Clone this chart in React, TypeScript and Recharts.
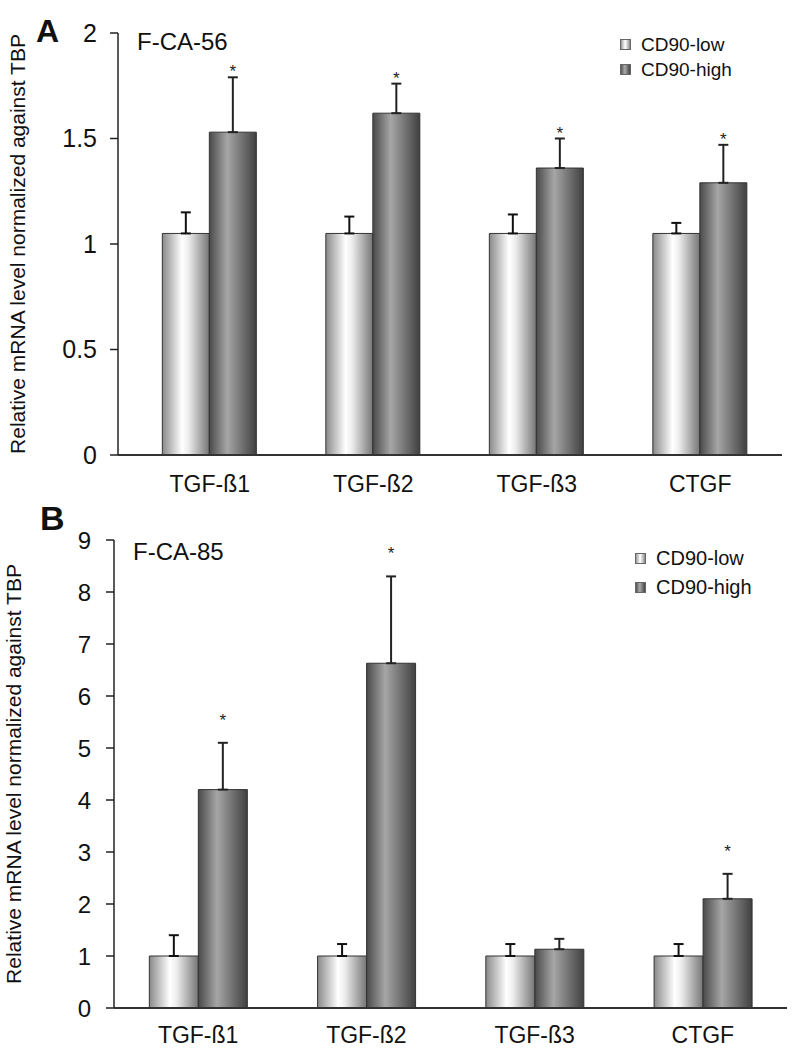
import React from "react";
import { BarChart, Bar, XAxis, YAxis, ErrorBar, Legend, LabelList } from "recharts";

const categories = ["TGF-ß1", "TGF-ß2", "TGF-ß3", "CTGF"];
const seriesNames = ["CD90-low", "CD90-high"];

// panel A, F-CA-56
const lowA = [1.05, 1.05, 1.05, 1.05];
const lowErrA = [0.1, 0.08, 0.09, 0.05];
const highA = [1.53, 1.62, 1.36, 1.29];
const highErrA = [0.26, 0.14, 0.14, 0.18];
const sigA = [true, true, true, true];
const ticksA = [0, 0.5, 1, 1.5, 2];

// panel B, F-CA-85
const lowB = [1, 1, 1, 1];
const lowErrB = [0.4, 0.23, 0.23, 0.23];
const highB = [4.2, 6.63, 1.13, 2.1];
const highErrB = [0.9, 1.67, 0.2, 0.48];
const sigB = [true, true, false, true];
const ticksB = [0, 1, 2, 3, 4, 5, 6, 7, 8, 9];

const FONT = "'Liberation Sans', Arial, sans-serif";

const legendGrad: Record<string, string> = {
  low: "linear-gradient(to right, #999, #fff 45%, #f2f2f2 55%, #888)",
  high: "linear-gradient(to right, #555, #aaa 42%, #444)",
};

function Panel(props: any) {
  const {
    id, top, height, margin, yWidth, padLeft, ticks, tickFont, tickSize, tickMargin, xTickMargin,
    low, lowErr, high, highErr, sig, starDy, legendPos, legendRow, legendFont, labelX,
  } = props;

  const rows = categories.map((c, i) => ({
    name: c,
    low: low[i],
    high: high[i],
    lowErr: [0, lowErr[i]],
    highErr: [0, highErr[i]],
  }));

  const renderStar = (p: any) => {
    const { x, y, width, height: h, value, index } = p;
    if (!sig[index]) return null;
    const ppu = h / value;
    const errTop = y - highErr[index] * ppu;
    return (
      <text x={x + width / 2} y={errTop + starDy} textAnchor="middle" fontSize={17} fontFamily={FONT} fill="#222">
        *
      </text>
    );
  };

  const renderYLabel = (p: any) => {
    const vb = p.viewBox || {};
    const cy = vb.y + vb.height / 2;
    return (
      <text
        x={labelX}
        y={cy}
        transform={`rotate(-90, ${labelX}, ${cy})`}
        textAnchor="middle"
        fontSize={21}
        fontFamily={FONT}
        fill="#111"
      >
        Relative mRNA level normalized against TBP
      </text>
    );
  };

  return (
    <div style={{ position: "absolute", left: 0, top, width: 792, height }}>
      <BarChart width={792} height={height} data={rows} margin={margin} barCategoryGap="21%" barGap={0}>
        <defs>
          <linearGradient id={`${id}-low`} x1="0" y1="0" x2="1" y2="0">
            <stop offset="0%" stopColor="#8a8a8a" />
            <stop offset="42%" stopColor="#ffffff" />
            <stop offset="55%" stopColor="#eeeeee" />
            <stop offset="100%" stopColor="#767676" />
          </linearGradient>
          <linearGradient id={`${id}-high`} x1="0" y1="0" x2="1" y2="0">
            <stop offset="0%" stopColor="#4a4a4a" />
            <stop offset="38%" stopColor="#a6a6a6" />
            <stop offset="100%" stopColor="#404040" />
          </linearGradient>
        </defs>
        <XAxis
          dataKey="name"
          height={30}
          padding={{ left: padLeft, right: 0 }}
          axisLine={{ stroke: "#333", strokeWidth: 2 }}
          tickLine={false}
          tickSize={0}
          tickMargin={xTickMargin}
          tick={{ fill: "#111", fontSize: 23, fontFamily: FONT }}
        />
        <YAxis
          width={yWidth}
          domain={[ticks[0], ticks[ticks.length - 1]]}
          ticks={ticks}
          interval={0}
          axisLine={{ stroke: "#222", strokeWidth: 1.5 }}
          tickLine={{ stroke: "#222", strokeWidth: 1.5 }}
          tickSize={tickSize}
          tickMargin={tickMargin}
          tick={{ fill: "#111", fontSize: tickFont, fontFamily: FONT }}
          label={{ content: renderYLabel }}
        />
        <Legend
          layout="vertical"
          align="center"
          verticalAlign="middle"
          wrapperStyle={{ left: legendPos[0], top: legendPos[1], width: 170 }}
          content={(lp: any) => {
            const items = [...(lp.payload || [])].sort(
              (a: any, b: any) => seriesNames.indexOf(a.value) - seriesNames.indexOf(b.value)
            );
            return (
              <div style={{ fontFamily: FONT, fontSize: legendFont, color: "#111" }}>
                {items.map((entry: any) => (
                  <div key={entry.value} style={{ display: "flex", alignItems: "center", height: legendRow }}>
                    <span
                      style={{
                        display: "inline-block",
                        width: 9,
                        height: 9,
                        marginRight: 10,
                        border: "1px solid #666",
                        background: legendGrad[entry.dataKey],
                      }}
                    />
                    {entry.value}
                  </div>
                ))}
              </div>
            );
          }}
        />
        <Bar dataKey="low" name={seriesNames[0]} fill={`url(#${id}-low)`} stroke="#333" strokeWidth={1} isAnimationActive={false}>
          <ErrorBar dataKey="lowErr" width={5} strokeWidth={2} stroke="#111" direction="y" isAnimationActive={false} />
        </Bar>
        <Bar dataKey="high" name={seriesNames[1]} fill={`url(#${id}-high)`} stroke="#333" strokeWidth={1} isAnimationActive={false}>
          <ErrorBar dataKey="highErr" width={5} strokeWidth={2} stroke="#222" direction="y" isAnimationActive={false} />
          <LabelList dataKey="high" content={renderStar} />
        </Bar>
      </BarChart>
    </div>
  );
}

const overlayText = (left: number, top: number, size: number, bold: boolean, text: string) => (
  <div
    style={{
      position: "absolute",
      left,
      top,
      fontFamily: FONT,
      fontSize: size,
      lineHeight: 1,
      fontWeight: bold ? 700 : 400,
      color: "#111",
      whiteSpace: "nowrap",
    }}
  >
    {text}
  </div>
);

export default function App() {
  return (
    <div style={{ position: "absolute", left: 0, top: 0, width: 792, height: 1050, background: "#fff", overflow: "hidden" }}>
      <Panel
        id="a"
        top={0}
        height={500}
        margin={{ top: 33, right: 10, bottom: 15, left: 0 }}
        yWidth={118}
        padLeft={10}
        ticks={ticksA}
        tickFont={25}
        tickSize={8}
        tickMargin={13}
        xTickMargin={21}
        low={lowA}
        lowErr={lowErrA}
        high={highA}
        highErr={highErrA}
        sig={sigA}
        starDy={0}
        legendPos={[620, 32]}
        legendRow={25}
        legendFont={19}
        labelX={25}
      />
      <Panel
        id="b"
        top={500}
        height={550}
        margin={{ top: 40, right: 5, bottom: 12, left: 0 }}
        yWidth={114}
        padLeft={0}
        ticks={ticksB}
        tickFont={24}
        tickSize={8}
        tickMargin={15}
        xTickMargin={19}
        low={lowB}
        lowErr={lowErrB}
        high={highB}
        highErr={highErrB}
        sig={sigB}
        starDy={-17}
        legendPos={[635, 44]}
        legendRow={29}
        legendFont={20}
        labelX={21}
      />
      {overlayText(36, 15, 32, true, "A")}
      {overlayText(40, 501, 34, true, "B")}
      {overlayText(137, 30, 24, false, "F-CA-56")}
      {overlayText(133, 540, 24, false, "F-CA-85")}
    </div>
  );
}
